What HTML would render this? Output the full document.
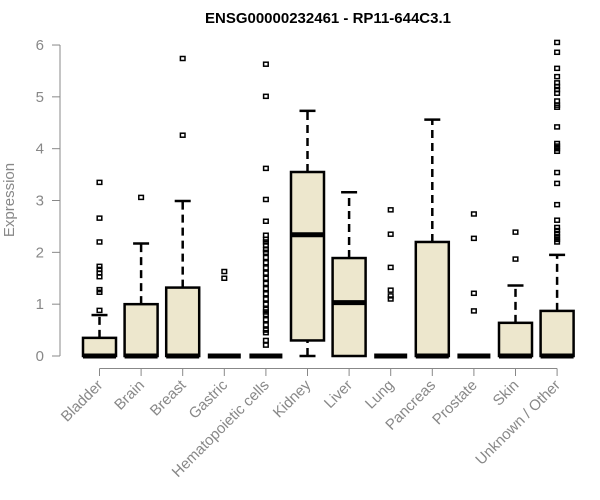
<!DOCTYPE html>
<html><head><meta charset="utf-8"><style>
body{margin:0;background:#fff}
svg{display:block;font-family:"Liberation Sans",Arial,sans-serif}
</style></head><body>
<svg id="chart" width="600" height="500">
<text x="328" y="23" text-anchor="middle" font-weight="bold" font-size="15" fill="#000">ENSG00000232461 - RP11-644C3.1</text>
<text transform="translate(14,200) rotate(-90)" text-anchor="middle" font-size="15" fill="#888">Expression</text>
<g id="axes"></g><g id="plot"></g>
</svg>
<script>
const categories=["Bladder","Brain","Breast","Gastric","Hematopoietic cells","Kidney","Liver","Lung","Pancreas","Prostate","Skin","Unknown / Other"];
const q1=[0,0,0,0,0,0.3,0,0,0,0,0,0];
const medians=[0,0,0,0,0,2.34,1.03,0,0,0,0,0];
const q3=[0.35,1.0,1.32,0,0,3.55,1.89,0,2.2,0,0.64,0.87];
const whiskLo=[0,0,0,0,0,0,0,0,0,0,0,0];
const whiskHi=[0.79,2.17,2.99,0,0,4.73,3.16,0,4.56,0,1.36,1.95];
const outliers=[
[0.88,1.23,1.28,1.53,1.6,1.67,1.73,2.2,2.66,3.35],
[3.06],
[4.26,5.74],
[1.5,1.63],
[0.21,0.3,0.45,0.5,0.6,0.7,0.8,0.85,0.9,1.0,1.1,1.2,1.3,1.4,1.5,1.6,1.7,1.8,1.9,2.0,2.05,2.14,2.2,2.25,2.33,2.6,3.02,3.62,5.01,5.63],
[],[],
[1.1,1.16,1.27,1.71,2.35,2.82],
[],
[0.87,1.21,2.27,2.74],
[1.87,2.39],
[2.2,2.25,2.3,2.36,2.42,2.48,2.62,2.92,3.33,3.54,3.95,4.0,4.05,4.1,4.42,4.8,4.84,4.92,5.07,5.14,5.2,5.27,5.39,5.55,5.86,6.05]
];
const yTicks=[0,1,2,3,4,5,6];
const NS="http://www.w3.org/2000/svg";
const y=v=>356-51.83*v;
const x=i=>99.5+41.6*i;
const ax=document.getElementById('axes'),pl=document.getElementById('plot');
function mk(p,tag,at){const e=document.createElementNS(NS,tag);for(const k in at)e.setAttribute(k,at[k]);p.appendChild(e);return e;}
let l=mk(ax,'line',{x1:60,x2:60,y1:y(0),y2:y(6),stroke:'#888'});


yTicks.forEach(t=>{
 let tk=mk(ax,'line',{x1:52,x2:60,y1:y(t),y2:y(t),stroke:'#888'});
 
 
 let tx=mk(ax,'text',{x:44,y:y(t)+5,'text-anchor':'end','font-size':15,fill:'#888'});
 tx.textContent=t;
 
 
});
l=mk(ax,'line',{x1:x(0),x2:x(categories.length-1),y1:368.5,y2:368.5,stroke:'#888'});


categories.forEach((c,i)=>{
 const cx=x(i);
 let tk=mk(ax,'line',{x1:cx,x2:cx,y1:368.5,y2:376,stroke:'#888'});
 
 
 let tx=mk(ax,'text',{transform:`translate(${cx+4},${386}) rotate(-45)`,'text-anchor':'end','font-size':15,fill:'#888'});
 tx.textContent=c;
 
 
 const g=mk(pl,'g',{});
 
 
 if(whiskHi[i]>q3[i]){
  mk(g,'line',{x1:cx,x2:cx,y1:y(q3[i]),y2:y(whiskHi[i]),stroke:'#000','stroke-width':2.5,'stroke-dasharray':'8,5'});
  mk(g,'line',{x1:cx-8,x2:cx+8,y1:y(whiskHi[i]),y2:y(whiskHi[i]),stroke:'#000','stroke-width':2.5});
 }
 if(q1[i]>whiskLo[i]){
  mk(g,'line',{x1:cx,x2:cx,y1:y(whiskLo[i]),y2:y(q1[i]),stroke:'#000','stroke-width':2.5,'stroke-dasharray':'8,5'});
  mk(g,'line',{x1:cx-8,x2:cx+8,y1:y(whiskLo[i]),y2:y(whiskLo[i]),stroke:'#000','stroke-width':2.5});
 }
 if(q3[i]>q1[i]) mk(g,'rect',{x:cx-16.5,y:y(q3[i]),width:33,height:y(q1[i])-y(q3[i]),fill:'#ede7cd',stroke:'#000','stroke-width':2.5});
 mk(g,'line',{x1:cx-16.5,x2:cx+16.5,y1:y(medians[i]),y2:y(medians[i]),stroke:'#000','stroke-width':5});
 outliers[i].forEach(v=>{
  const r=mk(g,'rect',{x:cx-2.3,y:y(v)-2,width:4.6,height:4,fill:'none',stroke:'#000','stroke-width':1.5});
  
  
 });
});
</script>
</body></html>
